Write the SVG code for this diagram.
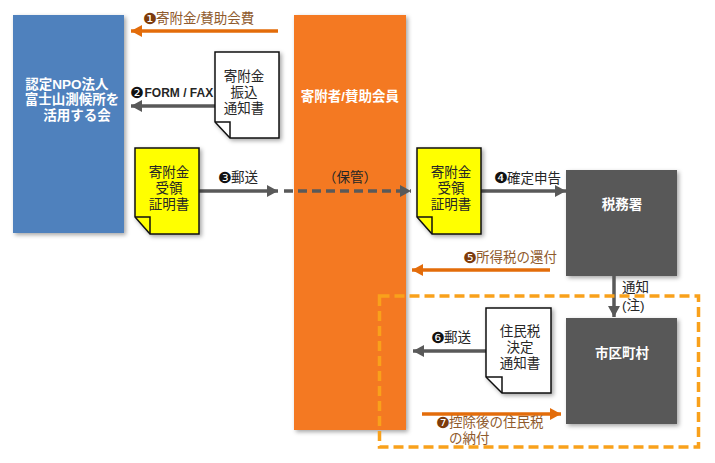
<svg xmlns="http://www.w3.org/2000/svg" width="715" height="463" viewBox="0 0 715 463">
<defs>
<style>
text{font-family:"Liberation Sans","Noto Sans CJK JP",sans-serif;font-size:13.5px;text-anchor:middle}
.w{fill:#fff;font-weight:bold}
.k{fill:#262626}
.b{fill:#8f5a2c}
.s{text-anchor:start}
.n{font-family:"DejaVu Sans",sans-serif;font-size:15.500px;text-anchor:start}
.nb{fill:#111}
.no{fill:#7d3c0c}
.doc{stroke:#111;stroke-width:1.5;filter:url(#sh)}
.fold{fill:none;stroke:#111;stroke-width:1.5}
.ga{fill:none;stroke:#595959;stroke-width:3.5}
.oa{fill:none;stroke:#e36c0a;stroke-width:3.5}
</style>
<filter id="sh" x="-20%" y="-20%" width="140%" height="140%"><feDropShadow dx="2" dy="2" stdDeviation="2" flood-color="#000" flood-opacity=".35"/></filter>
<marker id="mg" markerUnits="userSpaceOnUse" markerWidth="12" markerHeight="12" refX="11" refY="6" orient="auto"><path d="M0 0L11 6L0 12Z" fill="#595959"/></marker>
<marker id="mo" markerUnits="userSpaceOnUse" markerWidth="12" markerHeight="12" refX="11" refY="6" orient="auto"><path d="M0 0L11 6L0 12Z" fill="#e36c0a"/></marker>
</defs>
<rect width="715" height="463" fill="#fff"/>
<g id="node-org">
<rect x="13" y="15" width="111" height="218" fill="#4f81bd" filter="url(#sh)"/>
<text class="w" x="67" y="89">認定NPO法人</text>
<text class="w" x="72" y="104">富士山測候所を</text>
<text class="w" x="77" y="120">活用する会</text>
</g>
<g id="node-donor">
<rect x="294" y="15" width="112" height="415" fill="#f47920" filter="url(#sh)"/>
<text class="w" x="350" y="101">寄附者/賛助会員</text>
<text class="k" x="350" y="182">（保管）</text>
</g>
<g id="node-tax">
<rect x="566" y="170" width="111" height="106" fill="#595959" filter="url(#sh)"/>
<text class="w" x="622" y="209">税務署</text>
</g>
<g id="node-city">
<rect x="566" y="318" width="111" height="106" fill="#595959" filter="url(#sh)"/>
<text class="w" x="622" y="358">市区町村</text>
</g>
<g id="connectors">
<path class="oa" d="M278 31H131" marker-end="url(#mo)"/>
<path class="ga" d="M215 106H131" marker-end="url(#mg)"/>
<path class="ga" d="M199 191H278" marker-end="url(#mg)"/>
<path class="ga" d="M284 191H411" stroke-dasharray="9 5" marker-end="url(#mg)"/>
<path class="ga" d="M481 191H566" marker-end="url(#mg)"/>
<path class="oa" d="M550 270H412" marker-end="url(#mo)"/>
<path class="ga" d="M614 276V317" marker-end="url(#mg)"/>
<path class="ga" d="M486 351H413" marker-end="url(#mg)"/>
<path class="oa" d="M422 414H561" marker-end="url(#mo)"/>
</g>
<g id="doc-furikomi">
<path class="doc" fill="#fff" d="M215 52H279V138H230L215 122Z"/>
<path class="fold" d="M215 122H230V138"/>
<text class="k" x="244" y="81">寄附金</text>
<text class="k" x="244" y="97">振込</text>
<text class="k" x="244" y="113">通知書</text>
</g>
<g id="doc-receipt-1">
<path class="doc" fill="#ff0" d="M135 148H199V234H150L135 217Z"/>
<path class="fold" d="M135 217H150V234"/>
<text class="k" x="169" y="177">寄附金</text>
<text class="k" x="169" y="193">受領</text>
<text class="k" x="169" y="209">証明書</text>
</g>
<g id="doc-receipt-2">
<path class="doc" fill="#ff0" d="M417 148H481V234H432L417 217Z"/>
<path class="fold" d="M417 217H432V234"/>
<text class="k" x="451" y="177">寄附金</text>
<text class="k" x="451" y="193">受領</text>
<text class="k" x="451" y="209">証明書</text>
</g>
<g id="doc-notice">
<path class="doc" fill="#fff" d="M486 308H551V393H502L486 377Z"/>
<path class="fold" d="M486 377H502V393"/>
<text class="k" x="520" y="336">住民税</text>
<text class="k" x="520" y="352">決定</text>
<text class="k" x="520" y="368">通知書</text>
</g>
<g id="labels">
<text x="143" y="24" class="n no">❶</text>
<text x="156" y="23" class="b s">寄附金/賛助会費</text>
<text x="130" y="98" class="n nb">❷</text>
<text x="144.500" y="97" class="s" style="font-weight:bold;font-size:12px" fill="#262626">FORM / FAX</text>
<text x="218" y="183" class="n nb">❸</text>
<text x="231" y="182" class="k s">郵送</text>
<text x="494" y="183" class="n nb">❹</text>
<text x="507" y="183" class="k s">確定申告</text>
<text x="463" y="263" class="n no">❺</text>
<text x="476" y="262" class="b s">所得税の還付</text>
<text x="622" y="292" class="k s">通知</text>
<text x="622" y="310" class="k s">(注)</text>
<text x="431" y="343" class="n nb">❻</text>
<text x="444" y="342" class="k s">郵送</text>
<text x="436" y="428" class="n no">❼</text>
<text x="449" y="427" class="b s">控除後の住民税</text>
<text x="449" y="443" class="b s">の納付</text>
</g>
<rect id="area" x="379.500" y="296" width="319" height="151" fill="none" stroke="#f9a11b" stroke-width="3.500" stroke-dasharray="10 5"/>
</svg>
